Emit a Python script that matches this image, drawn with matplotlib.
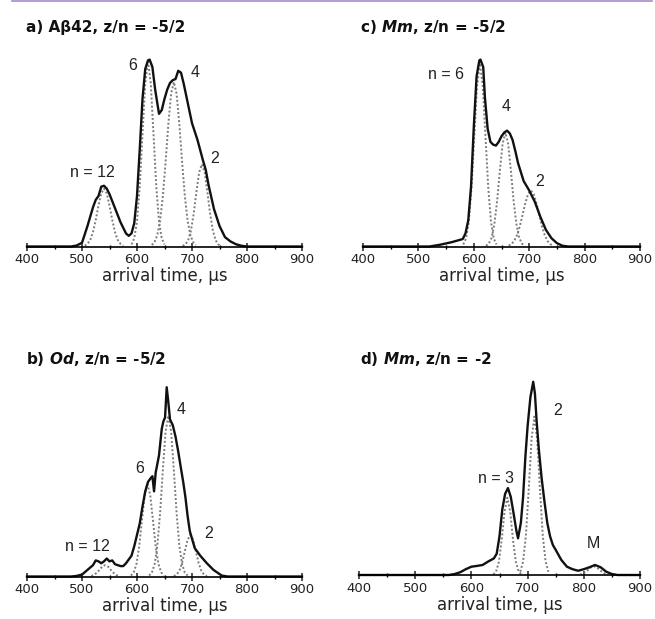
import matplotlib
matplotlib.use("Agg")
import matplotlib.pyplot as plt
from matplotlib.lines import Line2D
from matplotlib.ticker import MultipleLocator

plt.rcParams['font.family'] = ['DejaVu Sans']
plt.rcParams['mathtext.fontset'] = 'custom'
plt.rcParams['mathtext.it'] = 'DejaVu Sans:italic:bold'
plt.rcParams['mathtext.rm'] = 'DejaVu Sans:bold'
plt.rcParams['mathtext.bf'] = 'DejaVu Sans:bold'

# arrival time (us) and relative intensity (%)
a_t = [400, 480, 490, 500, 510, 520, 525, 530, 535, 540, 545, 550, 560, 570, 580, 585, 590, 595, 600, 605,
       610, 615, 620, 623, 628, 633, 640, 645, 650, 655, 660, 665, 670, 675, 680, 685, 690, 700, 710, 720,
       725, 730, 740, 750, 760, 770, 780, 790, 800, 900]
a_y = [0, 0, 0.5, 2, 11, 21, 25, 27, 32, 32.5, 31, 28, 20.5, 13, 7, 5.7, 7, 12.5, 27, 52,
       79, 95, 99.6, 100, 96, 84, 71, 73, 79, 84, 87.5, 89, 89.6, 94, 93, 87, 80, 66, 57, 46,
       41, 33, 20, 11, 5, 2.7, 1.2, 0.4, 0, 0]

c_t = [400, 520, 540, 560, 580, 585, 590, 595, 600, 605, 610, 612, 617, 620, 625, 630, 635, 640, 645, 650,
       655, 660, 665, 670, 675, 680, 690, 700, 710, 720, 730, 740, 750, 760, 770, 900]
c_y = [0, 0, 1, 2.3, 4, 7, 14, 32, 64, 91, 99.6, 100, 96, 80, 63, 56, 54.5, 54, 56, 59,
       61, 62, 60.5, 57, 51, 44.5, 35, 30, 24, 16, 9, 4.5, 1.8, 0.4, 0, 0]

b_t = [400, 480, 490, 500, 510, 520, 525, 530, 535, 540, 545, 550, 555, 560, 565, 570, 575, 580, 585, 590,
       595, 600, 605, 610, 615, 620, 625, 628, 631, 634, 640, 645, 648, 651, 654, 657, 660, 665, 670, 675,
       680, 684, 688, 692, 696, 700, 705, 715, 727, 739, 754, 765, 900]
b_y = [0, 0, 0.3, 1, 3.5, 6, 8.5, 8, 7, 8, 9.5, 8, 8.5, 6.5, 6, 5.5, 5.5, 7, 9, 11,
       16, 22, 28, 37, 45, 50, 52, 53, 45, 55, 64, 78, 82, 84, 100, 92, 83, 80, 74, 66,
       57, 50, 42, 32, 24, 20, 15, 11, 7, 3.5, 0.5, 0, 0]

d_t = [400, 560, 570, 580, 590, 600, 610, 620, 630, 640, 645, 650, 655, 660, 665, 670, 675, 680, 683, 688,
       692, 696, 700, 705, 710, 713, 716, 720, 725, 730, 735, 740, 745, 750, 760, 770, 780, 790, 800, 810,
       820, 830, 840, 850, 860, 900]
d_y = [0, 0, 0.5, 1.4, 3, 4.3, 4.7, 5.2, 7, 8.6, 11, 20, 34, 42, 45, 40.5, 32, 23, 19, 27,
       40.5, 61, 77, 92, 100, 94, 80, 65, 50, 38, 27, 20, 15.5, 13, 7.8, 4.3, 3, 2.2, 3, 4,
       5.2, 4, 1.7, 0.5, 0, 0]

# fitted components (dotted)
a_n12_t = [505, 510, 515, 520, 525, 530, 535, 540, 545, 550, 555, 560, 565, 570, 575]
a_n12_y = [0.4, 1.4, 3.5, 7.7, 14.2, 21.9, 28.4, 31, 28.4, 21.9, 14.2, 7.7, 3.5, 1.4, 0.4]
a_n6_t = [590, 595, 600, 605, 610, 615, 620, 625, 630, 635, 640, 645, 650]
a_n6_y = [1.1, 4.4, 13.4, 32.2, 60.1, 87.3, 99, 87.3, 60.1, 32.2, 13.4, 4.4, 1.1]
a_n4_t = [627, 632, 637, 642, 647, 652, 657, 662, 667, 672, 677, 682, 687, 692, 697, 702, 707]
a_n4_y = [0.8, 2.4, 6.2, 13.8, 26.9, 45.2, 65.5, 81.8, 88, 81.8, 65.5, 45.2, 26.9, 13.8, 6.2, 2.4, 0.8]
a_n2_t = [683, 688, 693, 698, 703, 708, 713, 718, 723, 728, 733, 738, 743, 748, 753]
a_n2_y = [0.3, 1.1, 3.3, 8.4, 17.4, 29.1, 39.7, 44, 39.7, 29.1, 17.4, 8.4, 3.3, 1.1, 0.3]

c_n6_t = [581, 586, 591, 596, 601, 606, 611, 616, 621, 626, 631, 636, 641]
c_n6_y = [1.1, 4.3, 13.2, 31.9, 59.5, 86.4, 98, 86.4, 59.5, 31.9, 13.2, 4.3, 1.1]
c_n4_t = [622, 627, 632, 637, 642, 647, 652, 657, 662, 667, 672, 677, 682, 687, 692]
c_n4_y = [0.4, 1.5, 4.6, 11.7, 24.1, 40.4, 55.0, 61, 55.0, 40.4, 24.1, 11.7, 4.6, 1.5, 0.4]
c_n2_t = [663, 668, 673, 678, 683, 688, 693, 698, 703, 708, 713, 718, 723, 728, 733, 738, 743]
c_n2_y = [0.5, 1.3, 3.0, 6.1, 10.8, 16.9, 23.3, 28.1, 30, 28.1, 23.3, 16.9, 10.8, 6.1, 3.0, 1.3, 0.5]

b_n12_t = [517, 522, 527, 532, 537, 542, 547, 552, 557, 562, 567]
b_n12_y = [0.3, 0.8, 2.0, 3.6, 5.3, 6, 5.3, 3.6, 2.0, 0.8, 0.3]
b_n6_t = [589, 594, 599, 604, 609, 614, 619, 624, 629, 634, 639, 644, 649]
b_n6_y = [0.5, 2.2, 6.6, 15.9, 29.7, 43.2, 49, 43.2, 29.7, 15.9, 6.6, 2.2, 0.5]
b_n4_t = [622, 627, 632, 637, 642, 647, 652, 657, 662, 667, 672, 677, 682, 687, 692]
b_n4_y = [0.5, 2.0, 6.5, 16.2, 33.6, 56.3, 76.7, 85, 76.7, 56.3, 33.6, 16.2, 6.5, 2.0, 0.5]
b_n2_t = [667, 672, 677, 682, 687, 692, 697, 702, 707, 712, 717, 722, 727]
b_n2_y = [0.2, 1.0, 3.0, 7.2, 13.4, 19.4, 22, 19.4, 13.4, 7.2, 3.0, 1.0, 0.2]

d_n3_t = [639, 644, 649, 654, 659, 664, 669, 674, 679, 684, 689]
d_n3_y = [0.3, 1.8, 6.9, 18.3, 32.9, 40, 32.9, 18.3, 6.9, 1.8, 0.3]
d_n2_t = [687, 692, 697, 702, 707, 712, 717, 722, 727, 732, 737]
d_n2_y = [1.7, 7.0, 20.4, 44.2, 70.3, 82, 70.3, 44.2, 20.4, 7.0, 1.7]
d_m_t = [793, 798, 803, 808, 813, 818, 823, 828, 833, 838, 843]
d_m_y = [0.2, 0.6, 1.5, 2.7, 4.0, 4.5, 4.0, 2.7, 1.5, 0.6, 0.2]

# peak labels: text, time, intensity
a_labels = [("n = 12", 519, 39.5), ("6", 593, 97), ("4", 705, 93), ("2", 742, 47)]
c_labels = [("n = 6", 549, 92), ("4", 659, 75), ("2", 719, 35)]
b_labels = [("n = 12", 510, 15.7), ("6", 605, 57), ("4", 681, 88.5), ("2", 730, 22.5)]
d_labels = [("n = 3", 643, 50), ("2", 753, 85), ("M", 817, 16.5)]

W, H = 655, 619


def panel(rect, t, y, fits, labels):
    left, top, right, bottom = rect
    ax = fig.add_axes([left / W, 1 - bottom / H, (right - left) / W, (bottom - top) / H])
    for ft, fy in fits:
        ax.plot(ft, fy, color='#7c7c7c', lw=1.4, ls=(0, (1, 1.1)))
    ax.plot(t, y, color='#111111', lw=1.7, clip_on=False)
    for txt, x0, y0 in labels:
        ax.text(x0, y0, txt, ha='center', va='center', fontsize=11.5, color='#222222',
                family='Liberation Sans')
    ax.set_xlim(400, 900)
    ax.set_ylim(0, 103)
    for s in ['top', 'right', 'left']:
        ax.spines[s].set_visible(False)
    ax.spines['bottom'].set_linewidth(1.2)
    ax.set_yticks([])
    ax.xaxis.set_major_locator(MultipleLocator(100))
    ax.xaxis.set_minor_locator(MultipleLocator(50))
    ax.tick_params(axis='x', which='major', direction='inout', length=6, width=1.1, labelsize=9.5, pad=2,
                   colors='#222222')
    ax.tick_params(axis='x', which='minor', direction='inout', length=3, width=1.0)
    ax.set_xlabel("arrival time, µs", fontsize=12, labelpad=0.5, color='#222222')
    ax.patch.set_alpha(0)
    return ax


fig = plt.figure(figsize=(6.55, 6.19), dpi=100)

panel((27, 54, 302, 246.5), a_t, a_y,
      [(a_n12_t, a_n12_y), (a_n6_t, a_n6_y), (a_n4_t, a_n4_y), (a_n2_t, a_n2_y)], a_labels)
panel((363, 54, 640, 246.5), c_t, c_y,
      [(c_n6_t, c_n6_y), (c_n4_t, c_n4_y), (c_n2_t, c_n2_y)], c_labels)
panel((27, 381.6, 302, 576.5), b_t, b_y,
      [(b_n12_t, b_n12_y), (b_n6_t, b_n6_y), (b_n4_t, b_n4_y), (b_n2_t, b_n2_y)], b_labels)
panel((359, 376, 640, 575), d_t, d_y,
      [(d_n3_t, d_n3_y), (d_n2_t, d_n2_y), (d_m_t, d_m_y)], d_labels)

title_kw = dict(fontsize=11, fontweight='bold', va='baseline', color='#111111')
fig.text(26 / W, 1 - 32 / H, "a) Aβ42, z/n = -5/2", **title_kw)
fig.text(360 / W, 1 - 32 / H, r"c) $\mathit{Mm}$, z/n = -5/2", **title_kw)
fig.text(26 / W, 1 - 364.5 / H, r"b) $\mathit{Od}$, z/n = -5/2", **title_kw)
fig.text(360 / W, 1 - 364.5 / H, r"d) $\mathit{Mm}$, z/n = -2", **title_kw)

fig.add_artist(Line2D([12 / W, 652 / W], [1 - 0.7 / H, 1 - 0.7 / H], transform=fig.transFigure,
                      color='#a48ccb', lw=1.2))

plt.savefig("out.png", dpi=100)
